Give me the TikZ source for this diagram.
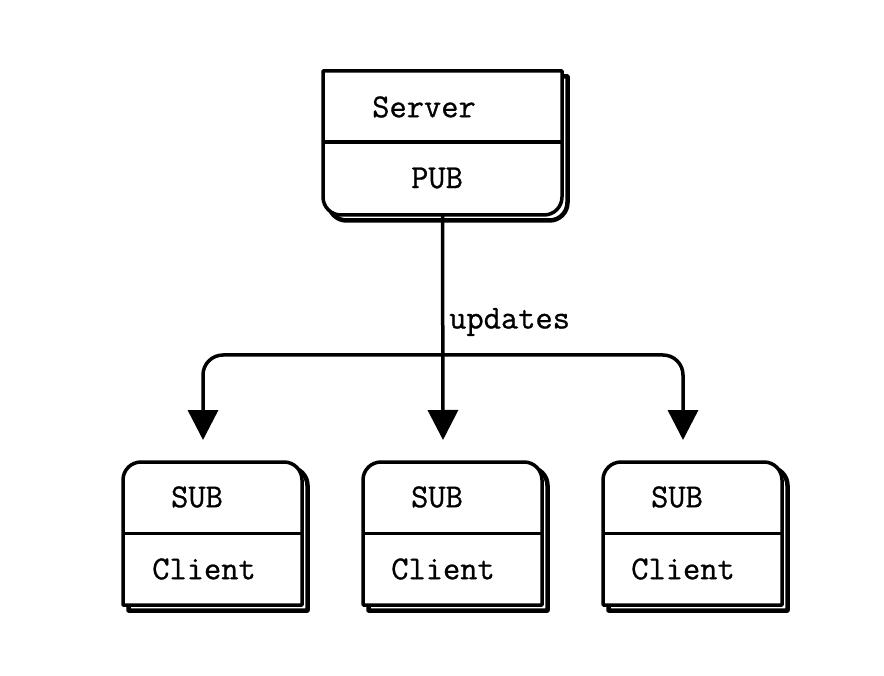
\documentclass[tikz,border=0pt]{standalone}
\usepackage{fontspec}
\newfontfamily\mytt{Latin Modern Mono}[FakeBold=0.8]
\usetikzlibrary{arrows.meta}
\tikzset{
  every picture/.style={x=1pt,y=-1pt},
  boxnode/.style={draw=none,inner sep=0pt,outer sep=0pt,minimum width=179pt,minimum height=143pt},
  srvnode/.style={draw=none,inner sep=0pt,outer sep=0pt,minimum width=239pt,minimum height=144pt},
  txt/.style={font=\fontsize{33.5}{40}\selectfont\mytt,inner sep=0pt},
  outline/.style={line width=3.5pt,fill=white,line join=round},
  shadow/.style={draw=black,line width=4.5pt,line join=round},
  arr/.style={line width=3.5pt,-{Triangle[width=30pt,length=30pt]}},
}
\begin{document}
\begin{tikzpicture}
\useasboundingbox (0,0) rectangle (884,676);
% nodes (frames)
\node[srvnode] (server) at (442.5,143) {};
\node[boxnode] (c1) at (212.5,533.5) {};
\node[boxnode] (c2) at (452.5,533.5) {};
\node[boxnode] (c3) at (692.5,533.5) {};
% server shape: bottom corners rounded
\begin{scope}[transform canvas={shift={(5.5pt,-5.5pt)}}]
\draw[shadow] (server.north west) -- (server.north east) -- ([yshift=18pt]server.south east) arc[start angle=0,end angle=-90,radius=18pt] -- ([xshift=18pt]server.south west) arc[start angle=270,end angle=180,radius=18pt] -- cycle;
\end{scope}
\draw[outline] (server.north west) -- (server.north east) -- ([yshift=18pt]server.south east) arc[start angle=0,end angle=-90,radius=18pt] -- ([xshift=18pt]server.south west) arc[start angle=270,end angle=180,radius=18pt] -- cycle;
\draw[line width=3.5pt] ([yshift=1pt]server.west) -- ([yshift=1pt]server.east);
\node[txt] (srvt) at (424,107) {Server};
\node[txt] (pub) at (437,178) {PUB};
% client shapes: top corners rounded
\foreach \c/\sx/\px in {c1/197/204,c2/437/443,c3/677/683}{
  \begin{scope}[transform canvas={shift={(5.5pt,-5.5pt)}}]
  \draw[shadow] (\c.south west) -- ([yshift=-18pt]\c.north west) arc[start angle=180,end angle=90,radius=18pt] -- ([xshift=-18pt]\c.north east) arc[start angle=90,end angle=0,radius=18pt] -- (\c.south east) -- cycle;
  \end{scope}
  \draw[outline] (\c.south west) -- ([yshift=-18pt]\c.north west) arc[start angle=180,end angle=90,radius=18pt] -- ([xshift=-18pt]\c.north east) arc[start angle=90,end angle=0,radius=18pt] -- (\c.south east) -- cycle;
  \draw[line width=3.5pt] (\c.west) -- (\c.east);
  \node[txt] (\c sub) at (\sx,497) {SUB};
  \node[txt] (\c cl) at (\px,569) {Client};
}
% connectors
\coordinate (split) at ([yshift=-140pt]server.south);
\draw[arr] (server.south) -- ([xshift=-9.5pt,yshift=22pt]c2.north);
\draw[arr,rounded corners=20pt] (split) -| ([xshift=-9.5pt,yshift=22pt]c1.north);
\draw[arr,rounded corners=20pt] (split) -| ([xshift=-9.5pt,yshift=22pt]c3.north);
\node[txt,anchor=west] (upd) at (449,322) {updates};
\end{tikzpicture}
\end{document}
